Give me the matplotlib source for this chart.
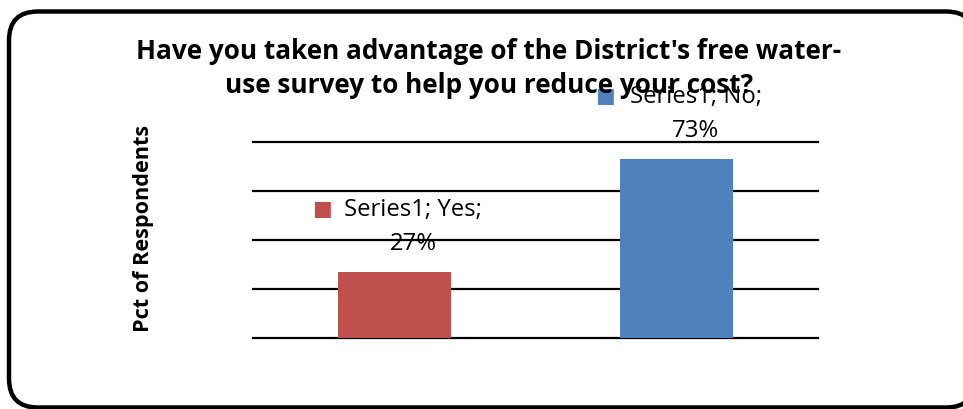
import matplotlib
matplotlib.use("Agg")
import matplotlib.pyplot as plt
from matplotlib.patches import FancyBboxPatch

categories = ["Yes", "No"]
values = [27, 73]
series_name = "Series1"
bar_colors = ["#C0504D", "#4F81BD"]
gridline_values = [0, 20, 40, 60, 80]
title_lines = ["Have you taken advantage of the District's free water-",
               "use survey to help you reduce your cost?"]
ylabel = "Pct of Respondents"

DPI = 100
W, H = 963, 409
fig = plt.figure(figsize=(W / DPI, H / DPI), dpi=DPI)
fig.patch.set_facecolor("white")

# rounded outer frame of the chart area
frame = FancyBboxPatch((9 / W, 1 - 407.5 / H), (975 - 9) / W, (407.5 - 11.5) / H,
                       boxstyle="round,pad=0,rounding_size=0.03",
                       transform=fig.transFigure, facecolor="white",
                       edgecolor="black", linewidth=3.2, zorder=-5,
                       mutation_aspect=W / H)
fig.patches.append(frame)

ax = fig.add_axes([253 / W, 1 - 338 / H, 565 / W, (338 - 142) / H])
ax.set_facecolor("none")
ax.set_zorder(2)
ax.set_xlim(-0.5, 1.5)
ax.set_ylim(0, 80)
for gv in gridline_values:
    ax.axhline(gv, color="black", linewidth=1.6, zorder=1, clip_on=False)

x = list(range(len(categories)))
bars = ax.bar(x, values, width=0.4, color=bar_colors, zorder=2)

for s in ax.spines.values():
    s.set_visible(False)
ax.set_xticks([])
ax.set_yticks([])

label_font = dict(family=["Open Sans", "DejaVu Sans"], fontsize=17.2, color="black")
for xi, v, c, cat in zip(x, values, bar_colors, categories):
    ax.annotate(f"{series_name}; {cat};", xy=(xi, v), xytext=(19, 62),
                textcoords="offset pixels", ha="center", va="center",
                zorder=5, **label_font)
    ax.annotate(f"{v}%", xy=(xi, v), xytext=(19, 28),
                textcoords="offset pixels", ha="center", va="center",
                zorder=5, **label_font)
    ax.annotate("■", xy=(xi, v), xytext=(-72, 63), textcoords="offset pixels",
                ha="center", va="center", color=c, fontsize=15,
                family="DejaVu Sans", zorder=5)

for line, base in zip(title_lines, [59, 93]):
    fig.text(489 / W, 1 - base / H, line, ha="center", va="baseline",
             family=["Open Sans", "DejaVu Sans"], fontweight="bold",
             fontsize=18.8, zorder=6)
fig.text(144 / W, 1 - 228 / H, ylabel, rotation=90, ha="center", va="center",
         family=["Open Sans", "DejaVu Sans"], fontweight="bold", fontsize=15.6)

fig.savefig("out.png", dpi=DPI, facecolor="white")
